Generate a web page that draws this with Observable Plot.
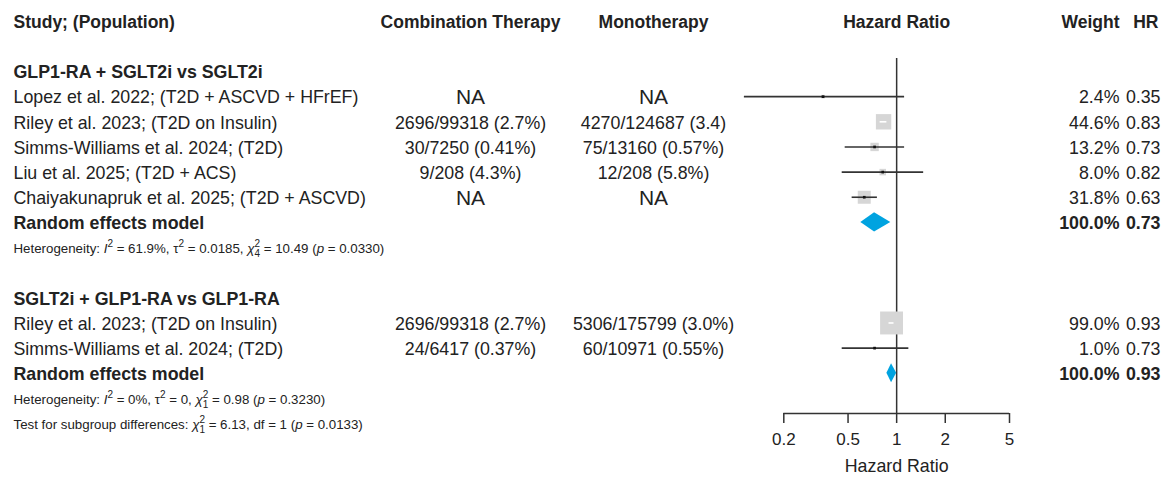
<!DOCTYPE html>
<html><head><meta charset="utf-8">
<script src="https://cdn.jsdelivr.net/npm/d3@7"></script>
<script src="https://cdn.jsdelivr.net/npm/@observablehq/plot@0.6"></script>
<style>body{margin:0;background:#fff;} #chart svg{display:block}</style>
</head><body><div id="chart"></div>
<script>
// ---------- data ----------
const columnHeaders = ["Study; (Population)", "Combination Therapy", "Monotherapy", "Hazard Ratio", "Weight", "HR"];
const groupTitles = ["GLP1-RA + SGLT2i vs SGLT2i", "SGLT2i + GLP1-RA vs GLP1-RA"];
const studyLabels = [
  "Lopez et al. 2022; (T2D + ASCVD + HFrEF)",
  "Riley et al. 2023; (T2D on Insulin)",
  "Simms-Williams et al. 2024; (T2D)",
  "Liu et al. 2025; (T2D + ACS)",
  "Chaiyakunapruk et al. 2025; (T2D + ASCVD)",
  "Riley et al. 2023; (T2D on Insulin)",
  "Simms-Williams et al. 2024; (T2D)"
];
const studyGroup = [0, 0, 0, 0, 0, 1, 1];
const combination = ["NA", "2696/99318 (2.7%)", "30/7250 (0.41%)", "9/208 (4.3%)", "NA", "2696/99318 (2.7%)", "24/6417 (0.37%)"];
const monotherapy = ["NA", "4270/124687 (3.4)", "75/13160 (0.57%)", "12/208 (5.8%)", "NA", "5306/175799 (3.0%)", "60/10971 (0.55%)"];
const hr     = [0.35, 0.83, 0.73, 0.82, 0.63, 0.93, 0.73];
const lower  = [0.114, 0.79, 0.48, 0.46, 0.53, 0.897, 0.46];
const upper  = [1.12, 0.87, 1.12, 1.47, 0.76, 0.963, 1.19];
const weight = [2.4, 44.6, 13.2, 8.0, 31.8, 99.0, 1.0];
const pooledLabel = "Random effects model";
const pooledHR = [0.73, 0.93];
const pooledLower = [0.60, 0.87];
const pooledUpper = [0.92, 1.00];
const pooledWeight = [100, 100];
const heterogeneity = [
  "Heterogeneity: *I*^2 = 61.9%, τ^2 = 0.0185, *χ*^2_4 = 10.49 (*p* = 0.0330)",
  "Heterogeneity: *I*^2 = 0%, τ^2 = 0, *χ*^2_1 = 0.98 (*p* = 0.3230)"
];
const subgroupTest = "Test for subgroup differences: *χ*^2_1 = 6.13, df = 1 (*p* = 0.0133)";
const xTicks = [0.2, 0.5, 1, 2, 5];
const xLabel = "Hazard Ratio";

// ---------- layout rows ----------
const titleRows = [], studyRows = [], pooledRows = [], noteRows = [];
let r = 0;
groupTitles.forEach((t, g) => {
  titleRows.push({row: r++, label: t});
  studyLabels.forEach((s, i) => {
    if (studyGroup[i] === g) studyRows.push({row: r++, label: s, comb: combination[i], mono: monotherapy[i], hr: hr[i], lo: lower[i], hi: upper[i], w: weight[i]});
  });
  pooledRows.push({row: r++, label: pooledLabel, hr: pooledHR[g], lo: pooledLower[g], hi: pooledUpper[g], w: pooledWeight[g], id: g});
  noteRows.push({row: r++, label: heterogeneity[g]});
  if (g < groupTitles.length - 1) r++;
});
noteRows.push({row: r++, label: subgroupTest});

const W = 1166, H = 477, mTop = 58, mBottom = 64;
const yDomain = [-0.557, 13.56];
const pxPerRow = (H - mBottom - mTop) / (yDomain[1] - yDomain[0]);
const xRange = [783.3, 1009];
const xs = d3.scaleLog().domain([xTicks[0], xTicks[xTicks.length - 1]]).range(xRange);
const rMax = 13;
const side = w => rMax * Math.sqrt(w / 100) * Math.sqrt(Math.PI);
studyRows.forEach(d => { d.inside = xs(d.hi) - xs(d.lo) < side(d.w); });

const dh = 0.38;
const diamond = pooledRows.flatMap(p => [
  {id: p.id, x: p.lo, y1: p.row, y2: p.row},
  {id: p.id, x: p.hr, y1: p.row - dh, y2: p.row + dh},
  {id: p.id, x: p.hi, y1: p.row, y2: p.row}
]);

const fmtW = d => d3.format(".1f")(d) + "%";
const fmtHR = d => d3.format(".2f")(d);
const ink = "#222";
const lineInk = "#333";
const fsMain = 17.8;
const colW = 1119, colHR = 1160;

const colText = (data, opts) => Plot.text(data, {y: "row", frameAnchor: "left", fill: ink, lineAnchor: "middle", fontSize: fsMain, ...opts});
const header = (i, opts) => Plot.text([columnHeaders[i]], {y: () => -2, text: d => d, fontWeight: "bold", fill: ink, fontSize: 17.5, ...opts});

const chart = Plot.plot({
  width: W, height: H,
  marginLeft: 0, marginRight: 0, marginTop: mTop, marginBottom: mBottom,
  x: {type: "log", domain: [xTicks[0], xTicks[xTicks.length - 1]], range: xRange, axis: null},
  y: {domain: yDomain, reverse: true, axis: null},
  r: {type: "sqrt", domain: [0, 100], range: [0, rMax]},
  style: {fontFamily: "'Liberation Sans', Arial, sans-serif", fontSize: "17.5px", color: ink, background: "#fff"},
  marks: [
    // header
    header(0, {frameAnchor: "left", dx: 13, textAnchor: "start"}),
    header(1, {frameAnchor: "left", dx: 470, textAnchor: "middle"}),
    header(2, {frameAnchor: "left", dx: 653, textAnchor: "middle"}),
    header(3, {x: () => 1, textAnchor: "middle"}),
    header(4, {frameAnchor: "left", dx: colW, textAnchor: "end"}),
    header(5, {frameAnchor: "left", dx: colHR - 2, textAnchor: "end"}),
    // group titles
    colText(titleRows, {text: "label", dx: 13, textAnchor: "start", fontWeight: "bold"}),
    // studies
    colText(studyRows, {text: "label", dx: 13, textAnchor: "start"}),
    colText(studyRows, {text: "comb", dx: 470, textAnchor: "middle", fontSize: d => d.comb === "NA" ? 21 : fsMain}),
    colText(studyRows, {text: "mono", dx: 653, textAnchor: "middle", fontSize: d => d.mono === "NA" ? 21 : fsMain}),
    colText(studyRows, {text: d => fmtW(d.w), dx: colW, textAnchor: "end"}),
    colText(studyRows, {text: d => fmtHR(d.hr), dx: colHR, textAnchor: "end"}),
    // pooled
    colText(pooledRows, {text: "label", dx: 13, textAnchor: "start", fontWeight: "bold"}),
    colText(pooledRows, {text: d => fmtW(d.w), dx: colW, textAnchor: "end", fontWeight: "bold"}),
    colText(pooledRows, {text: d => fmtHR(d.hr), dx: colHR, textAnchor: "end", fontWeight: "bold"}),
    // notes
    colText(noteRows, {text: "label", dx: 13, textAnchor: "start", fontSize: 13.3, className: "rich"}),
    // reference line and axis
    Plot.ruleX([1], {stroke: lineInk, strokeWidth: 1.5}),
    Plot.ruleY([yDomain[1]], {x1: () => xTicks[0], x2: () => xTicks[xTicks.length - 1], stroke: lineInk, strokeWidth: 1.5}),
    Plot.ruleX(xTicks, {x: d => d, y1: () => yDomain[1], y2: () => yDomain[1] + 10 / pxPerRow, stroke: lineInk, strokeWidth: 1.5}),
    Plot.text(xTicks, {x: d => d, frameAnchor: "bottom", dy: 31, text: d => String(d), textAnchor: "middle", fontSize: 17, fill: ink}),
    Plot.text([xLabel], {x: () => 1, frameAnchor: "bottom", dy: 58, text: d => d, textAnchor: "middle", fontSize: fsMain, fill: ink}),
    // study squares, CI lines, point markers
    Plot.dot(studyRows, {x: "hr", y: "row", r: "w", symbol: "square", fill: "#d6d6d6", stroke: "none", dy: -1}),
    Plot.ruleY(studyRows, {y: "row", x1: "lo", x2: "hi", stroke: d => d.inside ? "#ffffff" : lineInk, strokeWidth: 1.6, dy: -1}),
    Plot.dot(studyRows.filter(d => !d.inside), {x: "hr", y: "row", r: 1.5, symbol: "square", fill: "#111", stroke: "none", dy: -1}),
    // pooled diamonds
    Plot.areaY(diamond, {x: "x", y1: "y1", y2: "y2", z: "id", fill: "#00a3e0", curve: "linear", dy: -1})
  ]
});

// rich text (italics, superscripts, stacked sub/superscripts) for the note lines
const NS = "http://www.w3.org/2000/svg";
chart.querySelectorAll("g.rich text").forEach(t => {
  const s = t.textContent;
  t.textContent = "";
  const small = 10, w2 = 0.556 * small;
  const re = /\*([^*]+)\*|\^(\d)_(\d)|\^(\d)/g;
  let last = 0, m, pendingDy = 0;
  const add = (txt, attrs) => {
    const ts = document.createElementNS(NS, "tspan");
    ts.textContent = txt;
    for (const k in attrs) ts.setAttribute(k, attrs[k]);
    t.appendChild(ts);
  };
  const plain = txt => {
    if (!txt) return;
    const a = {};
    if (pendingDy) { a.dy = pendingDy; pendingDy = 0; }
    add(txt, a);
  };
  while ((m = re.exec(s))) {
    plain(s.slice(last, m.index));
    if (m[1]) {
      const a = {"font-style": "italic"};
      if (pendingDy) { a.dy = pendingDy; pendingDy = 0; }
      add(m[1], a);
    } else if (m[2]) {
      add(m[2], {"font-size": small, dy: -5.5 + pendingDy});
      add(m[3], {"font-size": small, dx: -w2, dy: 9.5});
      pendingDy = -4;
    } else if (m[4]) {
      add(m[4], {"font-size": small, dy: -5.5 + pendingDy});
      pendingDy = 5.5;
    }
    last = re.lastIndex;
  }
  plain(s.slice(last));
});

document.getElementById("chart").appendChild(chart);
</script>
</body></html>
